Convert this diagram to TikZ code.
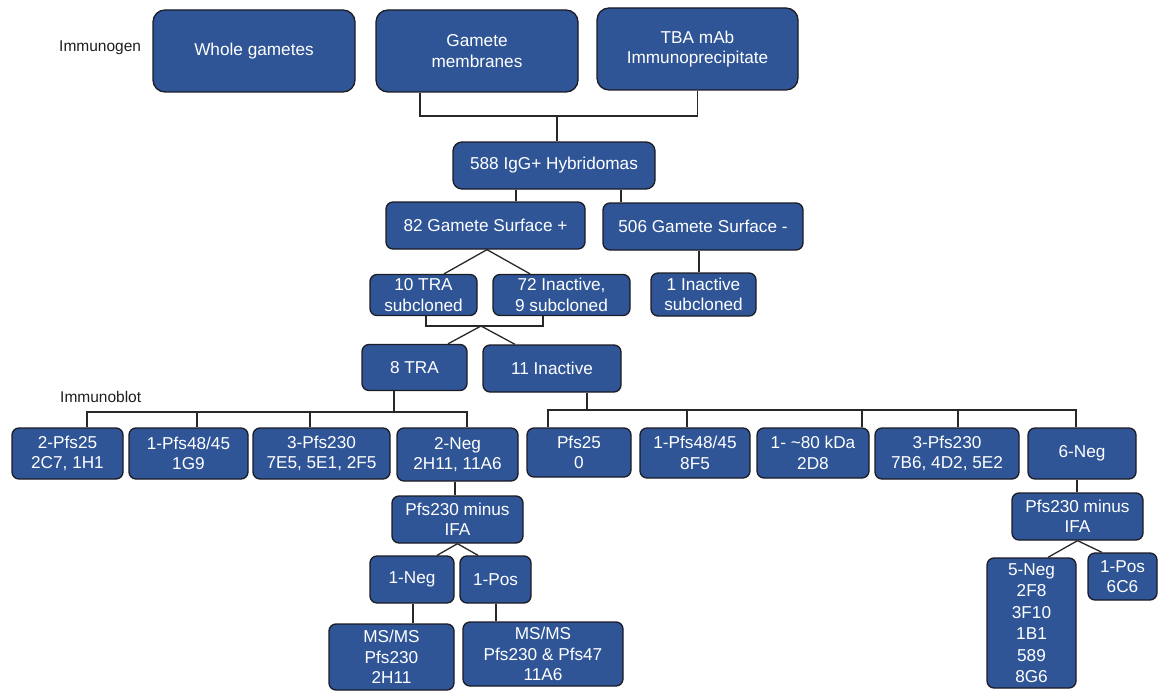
\documentclass[tikz,border=0pt]{standalone}
\usepackage{fontspec}
\setmainfont{Liberation Sans}
\definecolor{boxblue}{RGB}{47,85,151}
\definecolor{edgec}{RGB}{28,28,36}
\definecolor{wire}{RGB}{40,40,40}
\definecolor{lbl}{RGB}{30,30,30}
\begin{document}
\begin{tikzpicture}[x=1pt,y=-1pt,
  bx/.style={draw=edgec, fill=boxblue, rounded corners=7pt, text=white,
    font=\fontsize{17.2}{20.5}\selectfont, align=center, inner sep=0pt, line width=1.3pt},
  bigbx/.style={bx, rounded corners=12pt},
  ln/.style={draw=wire, line width=1.3pt},
  side/.style={anchor=west, text=lbl, font=\fontsize{15.5}{17}\selectfont, inner sep=0pt}]
\useasboundingbox (0,0) rectangle (1158,690);

% labels
\node[side] (limm) at (59,48) {Immunogen};
\node[side] (lblot) at (60,397) {Immunoblot};

% top row
\node[bigbx, minimum width=202pt, minimum height=82pt] (wg) at (254,51) {Whole gametes};
\node[bigbx, minimum width=202pt, minimum height=82pt] (gm) at (477,51) {Gamete\\membranes};
\node[bigbx, minimum width=201pt, minimum height=82pt] (tba) at (697.5,49) {TBA mAb\\Immunoprecipitate};

\node[bx, rounded corners=9pt, minimum width=202pt, minimum height=47pt] (hyb) at (554,165.5) {588 IgG+ Hybridomas};

\node[bx, minimum width=199pt, minimum height=47pt] (gsp) at (485.5,225.5) {82 Gamete Surface +};
\node[bx, minimum width=200pt, minimum height=47pt] (gsm) at (703,226.5) {506 Gamete Surface -};

\node[bx, minimum width=107pt, minimum height=41pt] (tra10) at (423.5,295) {10 TRA\\subcloned};
\node[bx, minimum width=137pt, minimum height=41pt] (ina72) at (561.5,295) {72 Inactive,\\9 subcloned};
\node[bx, minimum width=105pt, minimum height=43pt] (ina1) at (703.5,294.5) {1 Inactive\\subcloned};

\node[bx, minimum width=105pt, minimum height=46pt] (tra8) at (414.5,367.5) {8 TRA};
\node[bx, minimum width=138pt, minimum height=47pt] (ina11) at (552,368.5) {11 Inactive};

% immunoblot row
\node[bx, minimum width=111pt, minimum height=51pt] (p25) at (67.5,453.5) {2-Pfs25\\2C7, 1H1};
\node[bx, minimum width=119pt, minimum height=51pt] (p48) at (188.5,453.5) {1-Pfs48/45\\1G9};
\node[bx, minimum width=137pt, minimum height=51pt] (p230) at (321.5,453.5) {3-Pfs230\\7E5, 5E1, 2F5};
\node[bx, minimum width=121pt, minimum height=53pt] (neg2) at (457.5,454.5) {2-Neg\\2H11, 11A6};
\node[bx, minimum width=104pt, minimum height=49pt] (q25) at (579,452.5) {Pfs25\\0};
\node[bx, minimum width=110pt, minimum height=50pt] (q48) at (695,453) {1-Pfs48/45\\8F5};
\node[bx, minimum width=112pt, minimum height=50pt] (q80) at (813,453) {1- \textasciitilde80 kDa\\2D8};
\node[bx, minimum width=144pt, minimum height=51pt] (q230) at (947,453.5) {3-Pfs230\\7B6, 4D2, 5E2};
\node[bx, minimum width=108pt, minimum height=51pt] (neg6) at (1082,453.5) {6-Neg};

% left sub-tree
\node[bx, minimum width=131pt, minimum height=47pt] (ifa1) at (457.5,519.5) {Pfs230 minus\\IFA};
\node[bx, minimum width=84pt, minimum height=47pt] (neg1) at (412,579.5) {1-Neg};
\node[bx, minimum width=71pt, minimum height=47pt] (pos1) at (495.5,579.5) {1-Pos};
\node[bx, minimum width=125pt, minimum height=66pt] (ms1) at (391.5,657) {MS/MS\\Pfs230\\2H11};
\node[bx, minimum width=160pt, minimum height=64pt] (ms2) at (543,654) {MS/MS\\Pfs230 \& Pfs47\\11A6};

% right sub-tree
\node[bx, minimum width=131pt, minimum height=47pt] (ifa2) at (1077.5,516.5) {Pfs230 minus\\IFA};
\node[bx, minimum width=89pt, minimum height=130pt, font=\fontsize{17.2}{21.5}\selectfont] (neg5) at (1031.5,623) {5-Neg\\2F8\\3F10\\1B1\\589\\8G6};
\node[bx, minimum width=69pt, minimum height=47pt] (pos6) at (1122.5,576.5) {1-Pos\\6C6};

% connectors
\coordinate (j1) at (557,116);
\draw[ln] ([xshift=-57pt]gm.south) |- (j1) -| (tba.south);
\draw[ln] (j1) -- (j1 |- hyb.north);
\draw[ln] (516,0 |- hyb.south) -- (516,0 |- gsp.north);
\draw[ln] (621,0 |- hyb.south) -- (621,0 |- gsm.north);
\draw[ln] (699,0 |- gsm.south) -- (699,0 |- ina1.north);

\draw[ln] ([xshift=1.5pt]gsp.south) -- ([xshift=20.5pt]tra10.north);
\draw[ln] ([xshift=1.5pt]gsp.south) -- ([xshift=-31.5pt]ina72.north);

\coordinate (j2) at (481,326);
\draw[ln] ([xshift=2.5pt]tra10.south) |- (j2) -| ([xshift=-18.5pt]ina72.south);
\draw[ln] (j2) -- ([xshift=33.5pt]tra8.north);
\draw[ln] (j2) -- ([xshift=-37pt]ina11.north);

\coordinate (j3) at (394,412);
\draw[ln] (j3 |- tra8.south) -- (j3);
\draw[ln] (87,0 |- p25.north) |- (467,412) -- (467,0 |- neg2.north);
\draw[ln] (197,0 |- j3) -- (197,0 |- p48.north);
\draw[ln] (310,0 |- j3) -- (310,0 |- p230.north);

\coordinate (j4) at (587,410);
\draw[ln] (j4 |- ina11.south) -- (j4);
\draw[ln] (548,0 |- q25.north) |- (1076,410) -- (1076,0 |- neg6.north);
\draw[ln] (687,0 |- j4) -- (687,0 |- q48.north);
\draw[ln] (862,0 |- j4) -- (862,0 |- q80.north);
\draw[ln] (958,0 |- j4) -- (958,0 |- q230.north);

\draw[ln] (455,0 |- neg2.south) -- (455,0 |- ifa1.north);
\draw[ln] (ifa1.south) -- ([xshift=25pt]neg1.north);
\draw[ln] (ifa1.south) -- ([xshift=-17.5pt]pos1.north);
\draw[ln] (413,0 |- neg1.south) -- (413,0 |- ms1.north);
\draw[ln] (496,0 |- pos1.south) -- (496,0 |- ms2.north);

\draw[ln] (1077,0 |- neg6.south) -- (1077,0 |- ifa2.north);
\draw[ln] (ifa2.south) -- ([xshift=16.5pt]neg5.north);
\draw[ln] (ifa2.south) -- ([xshift=-20.5pt]pos6.north);
\end{tikzpicture}
\end{document}
